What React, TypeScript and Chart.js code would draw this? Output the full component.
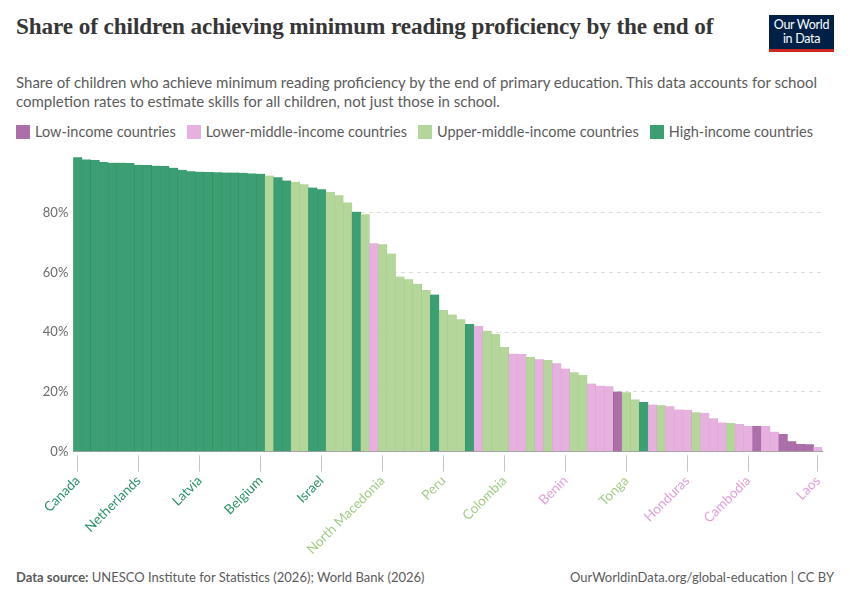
import React, { useEffect, useRef } from "react";
import { Chart, registerables } from "chart.js";

Chart.register(...registerables);

// ---- Data ----
const countryLabels: string[] = [
  "Canada", "", "", "", "", "", "", "Netherlands", "", "", "", "", "", "", "Latvia", "", "", "", "", "", "", "Belgium",
  "", "", "", "", "", "", "Israel", "", "", "", "", "", "", "North Macedonia", "", "", "", "", "", "", "Peru",
  "", "", "", "", "", "", "Colombia", "", "", "", "", "", "", "Benin", "", "", "", "", "", "", "Tonga",
  "", "", "", "", "", "", "Honduras", "", "", "", "", "", "", "Cambodia", "", "", "", "", "", "", "", "Laos",
];

const shareValues: number[] = [
  98.5, 97.8, 97.6, 96.9, 96.7, 96.7, 96.6, 96.0, 95.9, 95.7, 95.6, 95.0, 94.3, 93.8, 93.7, 93.6, 93.5, 93.4, 93.4, 93.3, 93.1, 93.0,
  92.4, 91.8, 90.7, 90.3, 89.5, 88.4, 87.8, 86.9, 85.8, 83.4, 80.3, 79.4, 69.7, 69.4, 66.3, 58.6, 57.7, 56.2, 54.1, 52.6, 47.4,
  45.9, 44.3, 42.7, 42.1, 40.5, 39.4, 35.0, 32.8, 32.7, 31.7, 30.9, 30.7, 29.6, 27.8, 26.6, 25.7, 22.8, 22.1, 21.9, 20.1, 19.9,
  17.5, 16.6, 15.8, 15.5, 15.2, 14.1, 14.0, 13.2, 13.0, 11.2, 9.8, 9.6, 9.3, 8.6, 8.6, 8.6, 6.7, 5.9, 3.5, 2.6, 2.5, 1.6,
];

// L = low, LM = lower-middle, UM = upper-middle, H = high income
const incomeGroups: string[] = [
  "H", "H", "H", "H", "H", "H", "H", "H", "H", "H", "H", "H", "H", "H", "H", "H", "H", "H", "H", "H", "H", "H",
  "UM", "H", "H", "UM", "UM", "H", "H", "UM", "UM", "UM", "H", "UM", "LM", "UM", "UM", "UM", "UM", "UM", "UM", "H", "UM",
  "UM", "UM", "H", "LM", "UM", "UM", "UM", "LM", "LM", "UM", "LM", "UM", "LM", "LM", "UM", "UM", "LM", "LM", "LM", "L", "UM",
  "UM", "H", "LM", "UM", "LM", "LM", "LM", "UM", "LM", "LM", "LM", "UM", "LM", "LM", "L", "LM", "LM", "L", "L", "L", "L", "LM",
];

const legendGroups: string[] = ["L", "LM", "UM", "H"];
const legendNames: string[] = [
  "Low-income countries",
  "Lower-middle-income countries",
  "Upper-middle-income countries",
  "High-income countries",
];

const yTickValues: number[] = [0, 20, 40, 60, 80];

// ---- Styles ----
const fillColors: Record<string, string> = {
  L: "#ad6faa",
  LM: "#e6b1de",
  UM: "#b4d69a",
  H: "#3c9e73",
};
const edgeColors: Record<string, string> = {
  L: "#9f5f9c",
  LM: "#dba3d3",
  UM: "#a8cc8d",
  H: "#338f66",
};
const labelColors: Record<string, string> = {
  L: "#a2559c",
  LM: "#e0a0d8",
  UM: "#a2cd85",
  H: "#2a9263",
};

const FONT = "Lato, 'Noto Sans', sans-serif";

export default function App() {
  const canvasRef = useRef<HTMLCanvasElement | null>(null);

  useEffect(() => {
    const canvas = canvasRef.current;
    if (!canvas) return;
    Chart.defaults.font.family = FONT;

    const chart = new Chart(canvas, {
      type: "bar",
      data: {
        labels: countryLabels.map((l, i) => l || `#${i + 1}`),
        datasets: [
          {
            data: shareValues,
            backgroundColor: incomeGroups.map((g) => fillColors[g]),
            borderColor: incomeGroups.map((g) => edgeColors[g]),
            borderWidth: { left: 0.6, right: 0.6, top: 0, bottom: 0 },
            borderSkipped: false,
            categoryPercentage: 1,
            barPercentage: 1,
          },
        ],
      },
      options: {
        responsive: false,
        animation: false,
        layout: { padding: { top: 11.7, right: 27.7, left: 0, bottom: 0 } },
        plugins: {
          legend: { display: false },
          tooltip: { enabled: false },
        },
        scales: {
          x: {
            type: "category",
            offset: true,
            afterFit: (scale: any) => {
              scale.height = 108.3;
            },
            grid: {
              offset: false,
              drawOnChartArea: false,
              drawTicks: true,
              tickLength: 20,
              tickWidth: 1,
              tickBorderDash: [0, 3.3, 16.7, 40],
              tickColor: (ctx: any) =>
                countryLabels[ctx.index] ? "#c4c4c4" : "rgba(0,0,0,0)",
            },
            border: { display: true, color: "#a0a0a0", width: 1 },
            ticks: {
              autoSkip: false,
              maxRotation: 45,
              minRotation: 45,
              padding: 1,
              font: { family: FONT, size: 13.5 },
              color: (ctx: any) => labelColors[incomeGroups[ctx.index]],
              callback: (_v: any, i: number) => countryLabels[i],
            },
          },
          y: {
            min: 0,
            max: 100,
            afterFit: (scale: any) => {
              scale.width = 73.3;
            },
            afterBuildTicks: (scale: any) => {
              scale.ticks = yTickValues.map((v) => ({ value: v }));
            },
            grid: {
              drawTicks: false,
              color: (ctx: any) =>
                ctx.tick && ctx.tick.value === 0 ? "rgba(0,0,0,0)" : "#dcdcdc",
              lineWidth: 1,
            },
            border: { display: false, dash: [4, 4] },
            ticks: {
              padding: 5,
              color: "#6b6b6b",
              font: { family: FONT, size: 13 },
              callback: (v: any) => `${v}%`,
            },
          },
        },
      },
    } as any);

    return () => chart.destroy();
  }, []);

  return (
    <div
      style={{
        position: "absolute",
        left: 0,
        top: 0,
        width: 850,
        height: 600,
        background: "#fff",
        fontFamily: FONT,
        overflow: "hidden",
      }}
    >
      <div
        style={{
          position: "absolute",
          left: 16,
          top: 13,
          fontFamily: "'Liberation Serif', 'DejaVu Serif', serif",
          fontWeight: 700,
          fontSize: 23.2,
          color: "#363636",
          whiteSpace: "nowrap",
          letterSpacing: -0.1,
        }}
      >
        Share of children achieving minimum reading proficiency by the end of
      </div>

      <div
        style={{
          position: "absolute",
          left: 769,
          top: 15,
          width: 65,
          height: 37,
          background: "#002147",
          borderBottom: "3px solid #ce261e",
          boxSizing: "border-box",
          color: "#fff",
          fontFamily: FONT,
          fontSize: 12.5,
          lineHeight: "14px",
          textAlign: "center",
          paddingTop: 3,
          letterSpacing: -0.3,
        }}
      >
        Our World
        <br />
        in Data
      </div>

      <div
        style={{
          position: "absolute",
          left: 16,
          top: 73,
          width: 830,
          fontSize: 15,
          lineHeight: "19px",
          color: "#5b5b5b",
        }}
      >
        Share of children who achieve minimum reading proficiency by the end of primary education. This data accounts for school
        completion rates to estimate skills for all children, not just those in school.
      </div>

      <div
        style={{
          position: "absolute",
          left: 16,
          top: 123,
          display: "flex",
          alignItems: "center",
          fontSize: 14.5,
          color: "#5b5b5b",
          whiteSpace: "nowrap",
        }}
      >
        {legendGroups.map((g, i) => (
          <div key={g} style={{ display: "flex", alignItems: "center", marginRight: 11 }}>
            <span
              style={{
                display: "inline-block",
                width: 14,
                height: 14,
                background: fillColors[g],
                marginRight: 5,
              }}
            />
            <span>{legendNames[i]}</span>
          </div>
        ))}
      </div>

      <div style={{ position: "absolute", left: 0, top: 140, width: 850, height: 420 }}>
        <canvas ref={canvasRef} width={850} height={420} style={{ display: "block", width: 850, height: 420 }} />
      </div>

      <div
        style={{
          position: "absolute",
          left: 16,
          top: 569,
          fontSize: 13,
          color: "#5b5b5b",
          whiteSpace: "nowrap",
        }}
      >
        <b style={{ fontWeight: 700 }}>Data source:</b> UNESCO Institute for Statistics (2026); World Bank (2026)
      </div>
      <div
        style={{
          position: "absolute",
          right: 16,
          top: 569,
          fontSize: 13,
          color: "#5b5b5b",
          whiteSpace: "nowrap",
        }}
      >
        OurWorldinData.org/global-education | CC BY
      </div>
    </div>
  );
}
